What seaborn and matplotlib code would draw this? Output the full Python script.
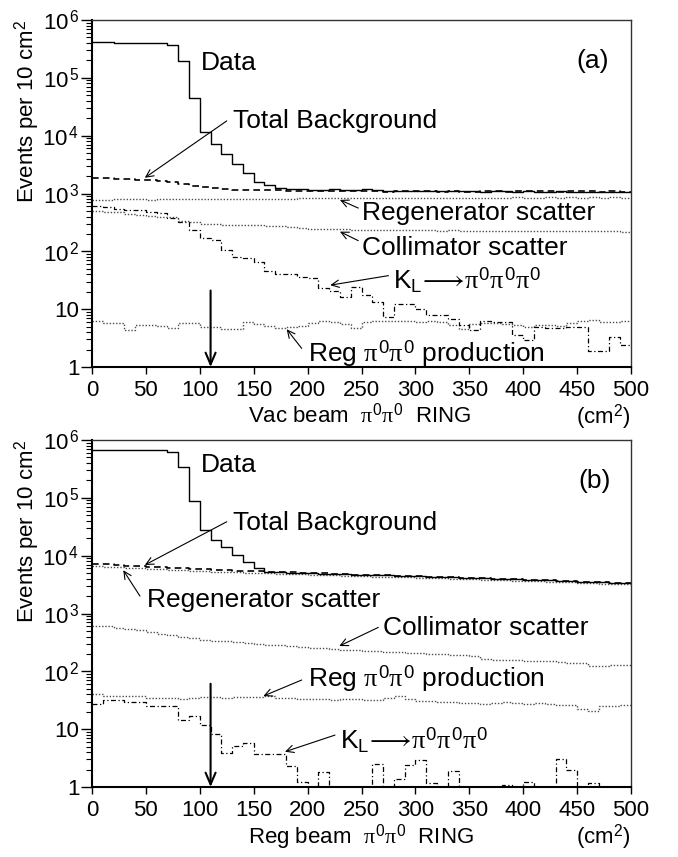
import numpy as np
import pandas as pd
import matplotlib
matplotlib.use("Agg")
import matplotlib.pyplot as plt
import seaborn as sns
from matplotlib.ticker import NullFormatter, LogLocator, FixedLocator

# ---------------- data (events per 10 cm^2, 10 cm^2 bins from 0 to 500) -------------
bin_edges = list(range(0, 510, 10))

vac_data = [4.1e5, 4.1e5, 4.05e5, 4.05e5, 4.0e5, 4.0e5, 3.95e5, 3.7e5, 1.98e5, 4.5e4,
            1.17e4, 7.3e3, 4.9e3, 3.3e3, 2.3e3, 1.59e3, 1.39e3, 1.23e3, 1.2e3, 1.2e3,
            1.15e3, 1.17e3, 1.18e3, 1.14e3, 1.16e3, 1.19e3, 1.13e3, 1.12e3, 1.11e3, 1.1e3,
            1.12e3, 1.1e3, 1.09e3, 1.1e3, 1.09e3, 1.1e3, 1.08e3, 1.09e3, 1.1e3, 1.08e3,
            1.09e3, 1.08e3, 1.07e3, 1.09e3, 1.08e3, 1.07e3, 1.08e3, 1.07e3, 1.08e3, 1.07e3]
vac_total = [1870, 1840, 1800, 1770, 1740, 1680, 1650, 1560, 1460, 1360,
             1270, 1250, 1200, 1170, 1160, 1150, 1135, 1130, 1120, 1115,
             1110, 1090, 1095, 1085, 1100, 1090, 1095, 1080, 1090, 1095,
             1085, 1090, 1080, 1090, 1080, 1080, 1090, 1090, 1080, 1090,
             1085, 1085, 1090, 1080, 1090, 1085, 1085, 1080, 1085, 1080]
vac_regen = [780, 775, 790, 800, 790, 785, 790, 795, 790, 800,
             800, 795, 805, 800, 790, 805, 810, 815, 810, 820,
             825, 820, 830, 825, 835, 830, 840, 835, 840, 845,
             840, 845, 840, 850, 845, 845, 850, 850, 845, 855,
             850, 850, 855, 850, 855, 850, 855, 850, 855, 850]
vac_collim = [490, 480, 470, 450, 430, 410, 400, 390, 340, 320,
              300, 295, 290, 290, 285, 280, 275, 270, 265, 255,
              245, 242, 240, 240, 238, 236, 235, 233, 232, 230,
              230, 232, 228, 230, 227, 225, 228, 226, 225, 224,
              226, 225, 223, 222, 224, 223, 222, 221, 222, 220]
vac_kl = [600, 580, 540, 520, 510, 480, 460, 370, 325, 232,
          168, 160, 105, 80, 78, 66, 45, 40, 40, 36,
          35, 23, 21, 16.4, 24, 17.6, 13.4, 7.2, 12.3, 12.3,
          10, 7.9, 7.9, 6.7, 5.3, 4.4, 6.3, 6.0, 6.0, 3.6,
          2.9, 5.0, 4.8, 4.8, 4.9, 5.0, 1.9, 1.9, 3.3, 2.4]
vac_regprod = [6.3, 5.8, 5.8, 4.3, 5.3, 5.4, 5.2, 4.8, 5.8, 5.8,
               5.0, 5.0, 4.6, 4.5, 6.0, 5.5, 5.2, 4.8, 5.0, 5.2,
               5.8, 6.2, 6.0, 5.6, 4.8, 6.0, 6.3, 6.2, 6.3, 6.3,
               6.0, 6.2, 6.0, 5.4, 4.6, 5.6, 5.8, 5.7, 5.6, 5.3,
               5.0, 5.4, 5.3, 5.2, 5.8, 6.2, 6.6, 6.1, 6.0, 6.2]

reg_data = [6.8e5, 6.8e5, 6.75e5, 6.7e5, 6.7e5, 6.65e5, 6.6e5, 6.3e5, 3.45e5, 8.9e4,
            2.8e4, 1.9e4, 1.42e4, 1.02e4, 7.8e3, 6.0e3, 5.2e3, 5.15e3, 5.1e3, 5.05e3,
            4950, 4900, 4850, 4780, 4720, 4680, 4620, 4560, 4510, 4460,
            4400, 4340, 4300, 4240, 4180, 4120, 4060, 4000, 3950, 3890,
            3840, 3790, 3740, 3680, 3630, 3570, 3520, 3460, 3420, 3380]
reg_total = [7190, 7070, 6940, 6760, 6580, 6440, 6310, 6180, 6050, 5930,
             5800, 5680, 5620, 5510, 5450, 5340, 5280, 5220, 5160, 5090,
             4990, 4935, 4870, 4770, 4710, 4660, 4610, 4550, 4500, 4445,
             4390, 4330, 4280, 4230, 4170, 4110, 4040, 3990, 3940, 3880,
             3830, 3780, 3730, 3670, 3620, 3560, 3500, 3450, 3400, 3350]
reg_regen = [6500, 6400, 6300, 6150, 6000, 5900, 5800, 5700, 5600, 5500,
             5400, 5300, 5250, 5150, 5100, 5000, 4950, 4900, 4850, 4800,
             4700, 4650, 4600, 4500, 4450, 4400, 4350, 4300, 4250, 4200,
             4150, 4100, 4050, 4000, 3950, 3900, 3850, 3800, 3750, 3700,
             3650, 3600, 3550, 3500, 3450, 3400, 3350, 3300, 3250, 3200]
reg_collim = [620, 600, 570, 540, 510, 480, 450, 420, 400, 380,
              350, 340, 330, 320, 310, 300, 290, 280, 270, 260,
              255, 250, 240, 235, 230, 225, 222, 218, 215, 210,
              205, 200, 198, 195, 190, 185, 165, 160, 158, 155,
              152, 150, 148, 145, 140, 138, 125, 125, 128, 127]
reg_kl = [27, 32, 32, 30, 30, 25.4, 25.4, 25.4, 14.6, 16.7,
          11.8, 8.3, 3.8, 5.1, 5.8, 3.7, 3.7, 3.7, 2.3, 1.2,
          0.1, 1.8, 0.1, 0.1, 0.1, 0.1, 2.5, 0.1, 1.4, 2.4,
          2.9, 1.16, 0.1, 1.9, 0.1, 0.1, 0.1, 0.1, 1.08, 0.1,
          1.23, 0.1, 0.1, 3.0, 1.95, 0.1, 1.16, 0.1, 0.1, 0.1]
reg_regprod = [40, 37, 37, 38, 38, 35, 35, 34, 33, 35,
               36, 36, 35, 36, 36, 36, 37, 34, 34, 33,
               33, 33, 32, 33, 33, 32, 32, 35, 37, 33,
               31, 31, 30, 29, 28, 28, 27, 28, 29, 28,
               27, 28, 27, 26, 26, 22, 21, 25, 25, 26]

x_ticks = list(range(0, 501, 50))
y_ticks = [1, 10, 1e2, 1e3, 1e4, 1e5, 1e6]
y_ticklabels = ["1", "10", r"$10^{\,2}$", r"$10^{\,3}$", r"$10^{\,4}$", r"$10^{\,5}$", r"$10^{\,6}$"]

# ---------------- style ----------------
sns.set_theme(style="ticks")
plt.rcParams["font.family"] = ["Liberation Sans", "DejaVu Sans"]
plt.rcParams["mathtext.fontset"] = "custom"
plt.rcParams["mathtext.rm"] = "Liberation Sans"
plt.rcParams["mathtext.it"] = "Liberation Serif"
plt.rcParams["mathtext.bf"] = "Liberation Sans:bold"
for key in ["text.color", "axes.labelcolor", "xtick.color", "ytick.color", "axes.edgecolor"]:
    plt.rcParams[key] = "black"

W, H = 678, 857
fig = plt.figure(figsize=(W / 100, H / 100), dpi=100)

centers = [(a + b) / 2 for a, b in zip(bin_edges[:-1], bin_edges[1:])]

styles = {
    "data": dict(color="black", linewidth=1.0, linestyle="-"),
    "total": dict(color="black", linewidth=1.2, linestyle=(0, (4, 2.5))),
    "dot": dict(color="0.3", linewidth=1.0, linestyle=(0, (1, 1.3))),
    "kl": dict(color="black", linewidth=0.9, linestyle=(0, (4, 2, 1, 2))),
}

KL_TEXT = r"$\mathrm{K_L}\!\longrightarrow\!\pi^0\pi^0\pi^0$"


def step(ax, vals, style):
    sns.histplot(x=centers, weights=vals, bins=bin_edges, element="step",
                 fill=False, ax=ax, **styles[style])


def label(ax, text, x, y, tail=None, tip=None):
    ax.text(x, y, text, fontsize=19, ha="left", va="baseline", color="black")
    if tail is not None:
        ax.annotate("", xy=tip, xytext=tail,
                    arrowprops=dict(arrowstyle="->,head_length=0.45,head_width=0.22",
                                    lw=0.8, color="black", shrinkA=0, shrinkB=0))


def setup(ax):
    ax.set_yscale("log")
    ax.set_xlim(0, 500)
    ax.set_ylim(1, 1e6)
    ax.set_xticks(x_ticks)
    ax.set_xticklabels([str(v) for v in x_ticks])
    ax.yaxis.set_major_locator(FixedLocator(y_ticks))
    ax.set_yticklabels(y_ticklabels)
    ax.yaxis.set_minor_locator(LogLocator(base=10, subs=np.arange(2, 10), numticks=20))
    ax.yaxis.set_minor_formatter(NullFormatter())
    ax.set_xlabel("")
    ax.set_ylabel("")
    ax.tick_params(axis="both", which="major", labelsize=16, direction="out",
                   top=False, right=False, color="black", labelcolor="black", width=1.0)
    ax.tick_params(axis="y", which="major", length=8, pad=1)
    ax.tick_params(axis="y", which="minor", length=4, width=0.8, right=False, color="black")
    ax.tick_params(axis="x", which="major", length=5, pad=4)
    ax.tick_params(axis="x", which="minor", length=0)
    for s in ["left", "bottom"]:
        ax.spines[s].set_linewidth(1.5)
        ax.spines[s].set_color("black")
    for s in ["top", "right"]:
        ax.spines[s].set_visible(True)
        ax.spines[s].set_linewidth(1.0)
        ax.spines[s].set_color("0.2")


def arrow_down(ax, x, ytop):
    ax.annotate("", xy=(x, 1.0), xytext=(x, ytop),
                arrowprops=dict(arrowstyle="->,head_length=0.7,head_width=0.3",
                                lw=1.5, color="black", shrinkA=0, shrinkB=0))


# ---------------- panel (a) ----------------
ax1 = fig.add_axes([92 / W, 1 - 367 / H, 539 / W, 347 / H])
step(ax1, vac_regprod, "dot")
step(ax1, vac_kl, "kl")
step(ax1, vac_collim, "dot")
step(ax1, vac_regen, "dot")
step(ax1, vac_total, "total")
step(ax1, vac_data, "data")
setup(ax1)
arrow_down(ax1, 110, 21)
label(ax1, "Data", 101, 1.36e5)
label(ax1, "Total Background", 131, 1.34e4, tail=(125, 1.8e4), tip=(49, 1.87e3))
label(ax1, "Regenerator scatter", 250, 348, tail=(247, 560), tip=(230, 775))
label(ax1, "Collimator scatter", 250, 86, tail=(247, 153), tip=(230, 219))
label(ax1, KL_TEXT, 279, 23, tail=(275, 38), tip=(221, 26))
label(ax1, r"Reg $\pi^0\pi^0$ production", 200.5, 1.23, tail=(194.5, 2.1), tip=(180.6, 4.5))
ax1.text(449.6, 1.46e5, "(a)", fontsize=19, ha="left", va="baseline", color="black")

# ---------------- panel (b) ----------------
ax2 = fig.add_axes([92 / W, 1 - 787 / H, 539 / W, 347 / H])
step(ax2, reg_kl, "kl")
step(ax2, reg_regprod, "dot")
step(ax2, reg_collim, "dot")
step(ax2, reg_regen, "dot")
step(ax2, reg_total, "total")
step(ax2, reg_data, "data")
setup(ax2)
arrow_down(ax2, 110, 61)
label(ax2, "Data", 101, 2.83e5)
label(ax2, "Total Background", 131, 2.78e4, tail=(125, 3.86e4), tip=(49, 6.9e3))
label(ax2, "Regenerator scatter", 50.7, 1.31e3, tail=(44.5, 2.0e3), tip=(29, 5.6e3))
label(ax2, "Collimator scatter", 270.2, 425, tail=(265.6, 575), tip=(229.4, 274))
label(ax2, r"Reg $\pi^0\pi^0$ production", 200.7, 54, tail=(194.5, 70.8), tip=(159, 37.4))
label(ax2, KL_TEXT, 230, 4.66, tail=(225.4, 7.9), tip=(179, 4.07))
ax2.text(451, 1.46e5, "(b)", fontsize=19, ha="left", va="baseline", color="black")

# ---------------- axis titles ----------------
for top_px, xl_base_px, xl_text in [(20, 423, r"Vac beam  $\pi^0\pi^0$  RING"),
                                    (440, 843, r"Reg beam  $\pi^0\pi^0$  RING")]:
    fig.text(27 / W, 1 - top_px / H, r"Events per 10 cm$^2$", rotation=90,
             ha="center", va="top", fontsize=16, color="black")
    fig.text(248 / W, 1 - xl_base_px / H, xl_text, ha="left", va="baseline", fontsize=16,
             color="black")
    fig.text(630 / W, 1 - xl_base_px / H, r"(cm$^2$)", ha="right", va="baseline", fontsize=16,
             color="black")

fig.savefig("out.png", dpi=100)
